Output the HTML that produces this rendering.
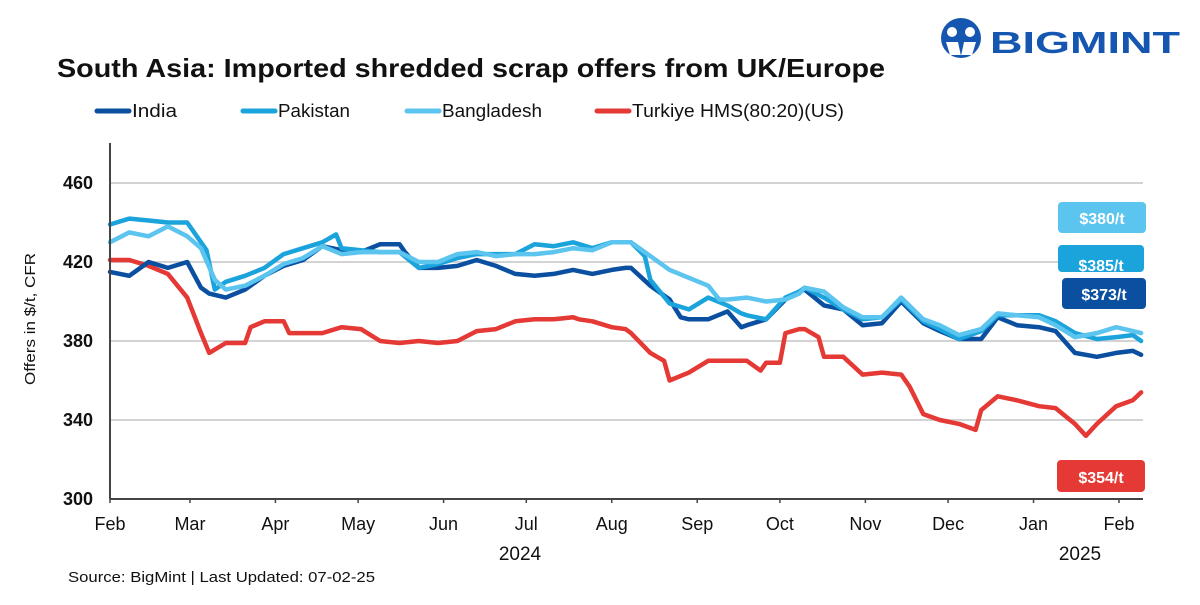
<!DOCTYPE html>
<html><head><meta charset="utf-8"><style>
body{margin:0;background:#fff;width:1200px;height:600px;overflow:hidden;font-family:"Liberation Sans",sans-serif}
svg text{font-family:"Liberation Sans",sans-serif}
</style></head><body>
<svg id="chart" width="1200" height="600" viewBox="0 0 1200 600">
<g>
<circle cx="961" cy="38" r="20" fill="#1556b0"/>
<circle cx="952" cy="32" r="5" fill="#fff"/><circle cx="970" cy="32" r="5" fill="#fff"/>
<path d="M946 42 L958 42 L961 56 L964 42 L976 42 L972 55 L950 55 Z" fill="#fff"/>
<text x="990" y="53" font-size="31" font-weight="bold" fill="#1556b0" textLength="190" lengthAdjust="spacingAndGlyphs">BIGMINT</text>
</g>
<text x="57" y="77" font-size="26" font-weight="bold" fill="#111" textLength="828" lengthAdjust="spacingAndGlyphs">South Asia: Imported shredded scrap offers from UK/Europe</text>
<g id="legend"></g>
<g id="grid"></g>
<g id="series"></g>
<g id="axes"></g>
<text transform="translate(35,319) rotate(-90)" text-anchor="middle" font-size="15" fill="#111" textLength="132" lengthAdjust="spacingAndGlyphs">Offers in $/t, CFR</text>
<text x="520" y="560" text-anchor="middle" font-size="19" fill="#111">2024</text>
<text x="1080" y="560" text-anchor="middle" font-size="19" fill="#111">2025</text>
<text x="68" y="582" font-size="15" fill="#111" textLength="307" lengthAdjust="spacingAndGlyphs">Source: BigMint | Last Updated: 07-02-25</text>
<g><rect x="1058" y="202" width="88" height="31" rx="4" fill="#5bc4ef"/><text x="1102" y="224" text-anchor="middle" font-size="16" font-weight="bold" fill="#fff">$380/t</text></g>
<g><rect x="1058" y="245" width="86" height="27" rx="4" fill="#1ba3dc"/><text x="1101" y="271" text-anchor="middle" font-size="16" font-weight="bold" fill="#fff">$385/t</text></g>
<g><rect x="1062" y="278" width="84" height="31" rx="4" fill="#0a4fa0"/><text x="1104" y="300" text-anchor="middle" font-size="16" font-weight="bold" fill="#fff">$373/t</text></g>
<g><rect x="1057" y="460" width="88" height="32" rx="4" fill="#e53935"/><text x="1101" y="483" text-anchor="middle" font-size="16" font-weight="bold" fill="#fff">$354/t</text></g>
</svg>
<script>
const yTicks=[300,340,380,420,460];
const monthLabels=["Feb","Mar","Apr","May","Jun","Jul","Aug","Sep","Oct","Nov","Dec","Jan","Feb"];
const monthDays=[0,29,60,90,121,151,182,213,243,274,304,335,366];
const seriesNames=["India","Pakistan","Bangladesh","Turkiye HMS(80:20)(US)"];
const seriesColors=["#0a4fa0","#1ba3dc","#5bc4ef","#e53935"];
const legendWidths=[45,72,100,212];
const indiaDays=[0,7,14,21,28,33,36,42,49,56,63,70,77,84,91,98,105,107,112,119,126,133,140,147,154,161,168,175,182,187,189,196,203,207,210,217,224,229,231,238,245,250,252,259,266,273,280,287,295,301,308,316,322,329,337,343,350,358,365,371,374];
const indiaVals=[415,413,420,417,420,407,404,402,406,413,418,421,428,426,425,429,429,425,417,417,418,421,418,414,413,414,416,414,416,417,417,408,401,392,391,391,395,387,388,391,401,405,406,398,396,388,389,400,389,385,381,381,392,388,387,385,374,372,374,375,373];
const pakDays=[0,7,14,21,28,35,38,42,49,56,63,70,77,82,84,91,98,105,112,119,126,133,140,147,154,161,168,175,182,189,194,196,203,210,217,224,229,231,238,245,250,252,259,266,273,280,287,295,301,308,316,322,329,337,343,350,358,365,371,374];
const pakVals=[439,442,441,440,440,426,406,410,413,417,424,427,430,434,427,426,425,425,417,419,422,424,424,424,429,428,430,427,430,430,423,411,399,396,402,398,394,393,391,402,405,407,402,396,391,392,401,390,386,381,385,393,393,393,390,384,381,382,383,380];
const bdDays=[0,7,14,21,28,33,38,42,49,56,63,70,77,84,91,98,105,112,119,126,133,140,147,154,161,168,175,182,189,196,203,210,217,221,224,231,238,245,250,252,259,266,273,280,287,295,301,308,316,322,329,337,343,350,358,365,371,374];
const bdVals=[430,435,433,438,433,427,411,406,408,413,419,422,428,424,425,425,425,420,420,424,425,423,424,424,425,427,426,430,430,423,416,412,408,401,401,402,400,401,404,407,405,397,392,392,402,391,388,383,386,394,393,392,388,382,384,387,385,384];
const trDays=[0,7,14,21,28,33,36,42,49,51,56,63,65,70,77,84,91,98,105,112,119,126,133,140,147,154,161,168,170,175,182,187,189,196,201,203,210,217,224,231,236,238,243,245,250,252,257,259,266,273,280,287,290,295,301,308,314,316,322,329,337,343,350,354,358,365,371,374];
const trVals=[421,421,418,414,402,384,374,379,379,387,390,390,384,384,384,387,386,380,379,380,379,380,385,386,390,391,391,392,391,390,387,386,384,374,370,360,364,370,370,370,365,369,369,384,386,386,382,372,372,363,364,363,357,343,340,338,335,345,352,350,347,346,338,332,338,347,350,354];

const NS="http://www.w3.org/2000/svg";
const X0=110,X1=1143,YB=499;
function xs(d){return X0+d*1009/366;}
function ys(v){return YB-(v-300)*79/40;}
function mk(tag,attrs,parent){const e=document.createElementNS(NS,tag);for(const k in attrs)e.setAttribute(k,attrs[k]);parent.appendChild(e);return e;}
const grid=document.getElementById('grid'),axes=document.getElementById('axes'),ser=document.getElementById('series'),leg=document.getElementById('legend');
yTicks.forEach(v=>{
  if(v>300){const l=mk('line',{x1:X0,x2:X1,y1:ys(v),y2:ys(v),stroke:'#d3d3d3','stroke-width':2},grid);
  
  }
  const t=mk('text',{x:93,y:ys(v)+6,'text-anchor':'end','font-size':18,'font-weight':'bold',fill:'#111'},axes);t.textContent=v;
  
  
});
const ya=mk('line',{x1:X0,x2:X0,y1:143,y2:YB,stroke:'#444','stroke-width':2},axes);


const xa=mk('line',{x1:X0,x2:X1,y1:YB,y2:YB,stroke:'#444','stroke-width':2},axes);


monthLabels.forEach((m,i)=>{
  const x=xs(monthDays[i]);
  mk('line',{x1:x,x2:x,y1:YB,y2:YB+4,stroke:'#444','stroke-width':1.5},axes);
  const t=mk('text',{x:x,y:530,'text-anchor':'middle','font-size':18,fill:'#111'},axes);t.textContent=m;
  
  
});
const all=[[indiaDays,indiaVals],[pakDays,pakVals],[bdDays,bdVals],[trDays,trVals]];
const order=[3,0,1,2];
order.forEach(i=>{
  const [d,v]=all[i];
  const pts=d.map((dd,j)=>xs(dd).toFixed(1)+','+ys(v[j]).toFixed(1)).join(' ');
  const p=mk('polyline',{points:pts,fill:'none',stroke:seriesColors[i],'stroke-width':4.5,'stroke-linejoin':'round','stroke-linecap':'round'},ser);
  
  
});
const legX=[97,243,407,597];
seriesNames.forEach((n,i)=>{
  const g=mk('g',{},leg);
  
  
  mk('line',{x1:legX[i],x2:legX[i]+32,y1:111,y2:111,stroke:seriesColors[i],'stroke-width':5,'stroke-linecap':'round'},g);
  const t=mk('text',{x:legX[i]+35,y:117,'font-size':18,fill:'#111',textLength:legendWidths[i],lengthAdjust:'spacingAndGlyphs'},g);t.textContent=n;
});
</script>
</body></html>
